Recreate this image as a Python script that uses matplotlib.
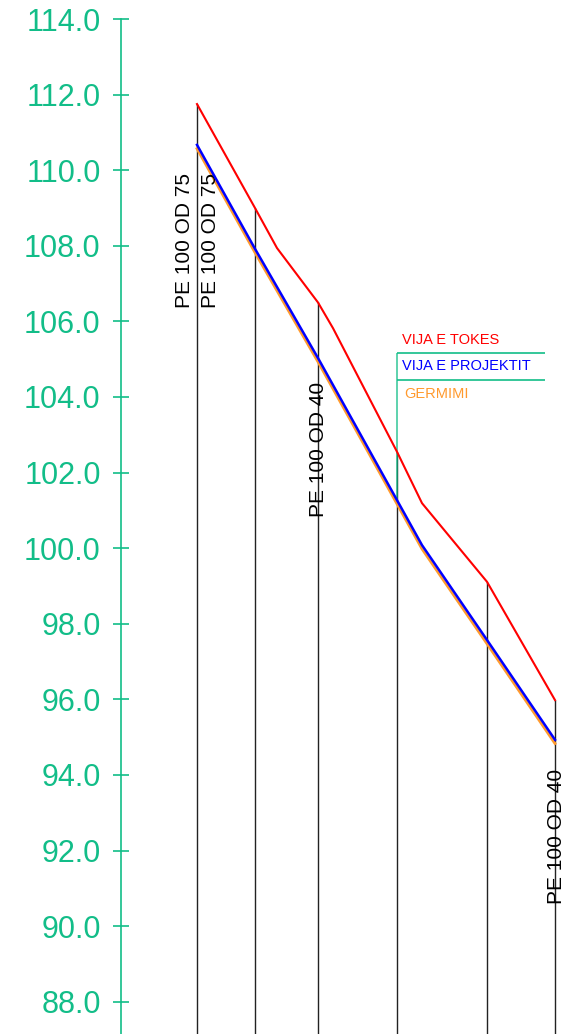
import matplotlib.pyplot as plt
from matplotlib.ticker import FixedLocator, FormatStrFormatter

plt.rcParams['font.family'] = ['Liberation Sans', 'DejaVu Sans']

# chainage of the profile points (m) and elevations
stations = [0, 58, 121, 200, 290, 358]
ground_x = [0, 58, 80, 121, 136, 200, 225, 290, 358]
ground_y = [111.75, 109.0, 107.94, 106.5, 105.82, 102.55, 101.19, 99.11, 95.98]
project_x = [0, 58, 121, 200, 225, 290, 358]
project_y = [110.67, 107.92, 105.03, 101.27, 100.08, 97.57, 94.93]
trench_y = [110.57, 107.82, 104.93, 101.17, 99.98, 97.47, 94.83]

pipe_labels = ["PE 100 OD 75", "PE 100 OD 75", "PE 100 OD 40", "PE 100 OD 40"]
pipe_label_x = [-13, 13, 121, 359]
pipe_label_y = [108.15, 108.15, 102.62, 92.36]

yticks = [88, 90, 92, 94, 96, 98, 100, 102, 104, 106, 108, 110, 112, 114]

green = '#12bd88'
ymin, ymax = 87.145, 114.503

fig = plt.figure(figsize=(5.72, 10.34), dpi=100)
ax = fig.add_axes([0, 0, 1, 1])
ax.set_xlim(-197, 375)
ax.set_ylim(ymin, ymax)

# vertical station lines, from ground down
ground_at = dict(zip(ground_x, ground_y))
ax.vlines(stations, ymin, [ground_at[s] for s in stations], color='#222222', lw=1.0, zorder=1)

# profile lines
ax.plot(project_x, trench_y, color='#ff9a2e', lw=2.0, zorder=3)
ax.plot(project_x, project_y, color='#0000ff', lw=1.8, zorder=4)
ax.plot(ground_x, ground_y, color='#ff0000', lw=1.5, zorder=5)

# legend box
ax.vlines(200, project_y[3], 105.16, color=green, lw=1.2, alpha=0.8, zorder=2)
ax.hlines([105.16, 104.45], 200, 348, color=green, lw=1.2)
ax.text(205, 105.5, "VIJA E TOKES", color='#ff0000', fontsize=10.5, va='center', ha='left')
ax.text(205, 104.81, "VIJA E PROJEKTIT", color='#0000ff', fontsize=10.5, va='center', ha='left')
ax.text(207, 104.07, "GERMIMI", color='#ff9a2e', fontsize=10.5, va='center', ha='left')

# pipe labels
for lbl, x, y in zip(pipe_labels, pipe_label_x, pipe_label_y):
    ax.text(x, y, lbl, rotation=90, fontsize=15, ha='center', va='center', color='black')

# elevation axis
for s in ['top', 'right', 'bottom']:
    ax.spines[s].set_visible(False)
ax.spines['left'].set_position(('data', -76))
ax.spines['left'].set_color(green)
ax.spines['left'].set_linewidth(1.2)
ax.spines['left'].set_bounds(ymin, 114)
ax.yaxis.set_major_locator(FixedLocator(yticks))
ax.yaxis.set_major_formatter(FormatStrFormatter('%.1f'))
ax.tick_params(axis='y', direction='inout', length=12, width=1.2, color=green,
               labelcolor=green, labelsize=22, pad=8.6)
ax.set_xticks([])

fig.savefig("out.png", dpi=100)
